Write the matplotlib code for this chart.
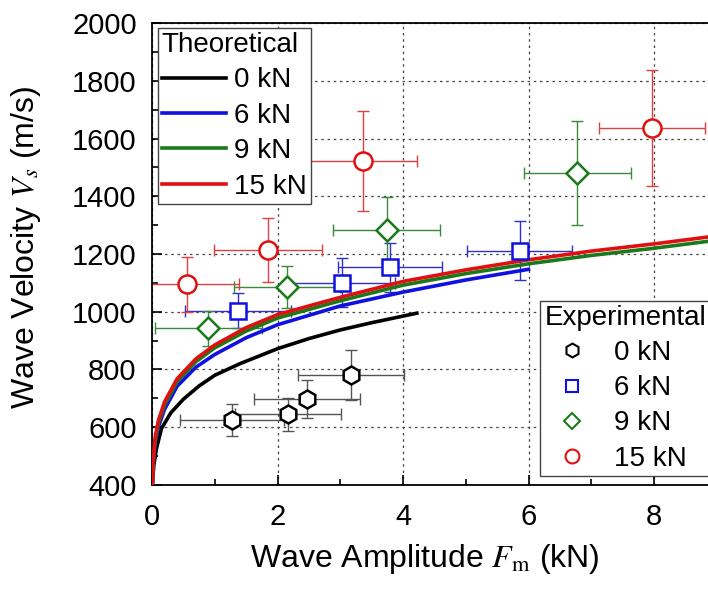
import matplotlib
matplotlib.use("Agg")
import matplotlib.pyplot as plt
from matplotlib.lines import Line2D

plt.rcParams['font.family'] = ['Liberation Sans', 'DejaVu Sans']
plt.rcParams['mathtext.fontset'] = 'stix'

# theoretical curves
f_0 = [0.005, 0.03, 0.07, 0.15, 0.3, 0.5, 0.75, 1.0, 1.4, 2.0, 2.5, 3.0, 3.5, 4.22]
v_0 = [400, 470, 525, 595, 650, 697, 743, 780, 820, 872, 907, 937, 962, 995]

f_6 = [0.005, 0.02, 0.05, 0.1, 0.2, 0.4, 0.7, 1.0, 1.5, 2.0, 3.0, 4.0, 5.0, 6.0]
v_6 = [400, 470, 545, 600, 662, 742, 808, 852, 910, 955, 1020, 1068, 1110, 1147]

f_9 = [0.005, 0.02, 0.05, 0.1, 0.2, 0.4, 0.7, 1.0, 1.5, 2.0, 3.0, 4.0, 5.0, 6.0, 7.0, 8.0, 8.9]
v_9 = [400, 478, 555, 612, 677, 758, 827, 875, 933, 978, 1038, 1092, 1132, 1166, 1195, 1220, 1245]

f_15 = [0.005, 0.02, 0.05, 0.1, 0.2, 0.4, 0.7, 1.0, 1.5, 2.0, 3.0, 4.0, 5.0, 6.0, 7.0, 8.0, 8.9]
v_15 = [400, 485, 565, 622, 688, 768, 837, 885, 945, 990, 1050, 1105, 1145, 1180, 1210, 1235, 1260]

# experimental points: amplitude, velocity, errors
ex0_f = [1.27, 2.17, 2.47, 3.17]
ex0_v = [625, 645, 697, 781]
ex0_fe = [0.83, 0.84, 0.85, 0.85]
ex0_ve = [55, 57, 66, 85]

ex6_f = [1.37, 3.02, 3.79, 5.86]
ex6_v = [1004, 1101, 1154, 1212]
ex6_fe = [0.84, 0.85, 0.83, 0.84]
ex6_ve = [60, 85, 85, 102]

ex9_f = [0.90, 2.15, 3.74, 6.78]
ex9_v = [943, 1085, 1283, 1482]
ex9_fe = [0.85, 0.85, 0.85, 0.85]
ex9_ve = [60, 73, 115, 180]

ex15_f = [0.55, 1.85, 3.37, 7.97]
ex15_v = [1095, 1214, 1523, 1637]
ex15_fe = [0.83, 0.86, 0.85, 0.85]
ex15_ve = [95, 110, 173, 200]

labels = ['0 kN', '6 kN', '9 kN', '15 kN']
colors = ['black', '#1010e0', '#1a7a1a', '#e01010']
err_colors = ['#555555', '#3030c8', '#3a8a3a', '#e04040']
markers = ['h', 's', 'D', 'o']
msizes = [13, 12, 11, 13]

fig = plt.figure(figsize=(7.08, 5.90), dpi=100)
ax = fig.add_axes([0.2147, 0.178, 0.7853, 0.783])

theo = [(f_0, v_0), (f_6, v_6), (f_9, v_9), (f_15, v_15)]
exps = [(ex0_f, ex0_v, ex0_fe, ex0_ve), (ex6_f, ex6_v, ex6_fe, ex6_ve),
        (ex9_f, ex9_v, ex9_fe, ex9_ve), (ex15_f, ex15_v, ex15_fe, ex15_ve)]

theo_handles = []
for (f, v), c, lab in zip(theo, colors, labels):
    h, = ax.plot(f, v, color=c, lw=2.6, zorder=3, label=lab)
    theo_handles.append(h)

exp_handles = []
for (f, v, fe, ve), c, ec, m, ms, lab in zip(exps, colors, err_colors, markers, msizes, labels):
    ax.errorbar(f, v, xerr=fe, yerr=ve, fmt='none', ecolor=ec, elinewidth=1,
                capsize=4, capthick=1, zorder=2)
    ax.plot(f, v, ls='none', marker=m, ms=ms, mfc='white', mec=c, mew=1.8, zorder=4)
    exp_handles.append(Line2D([], [], ls='none', marker=m, ms=ms - 3, mfc='white',
                              mec=c, mew=1.5, label=lab))

ax.set_xlim(0, 8.86)
ax.set_ylim(400, 2000)
ax.set_xticks([0, 2, 4, 6, 8])
ax.set_xticks(range(0, 9), minor=True)
ax.set_yticks(range(400, 2001, 200))
ax.set_yticks(range(400, 2001, 100), minor=True)
ax.tick_params(which='both', direction='in', labelsize=21, width=1.2)
ax.tick_params(which='major', length=7)
ax.tick_params(which='minor', length=4)
ax.tick_params(axis='x', pad=13)
ax.tick_params(axis='y', pad=11)
ax.spines['right'].set_visible(False)
for s in ['left', 'bottom', 'top']:
    ax.spines[s].set_linewidth(1.3)
ax.grid(True, which='major', ls=(0, (2, 3)), color='#444444', lw=0.9)

ax.set_xlabel(r'Wave Amplitude $F_{\mathrm{m}}$ (kN)', fontsize=23)
ax.set_ylabel(r'Wave Velocity $V_s$ (m/s)', fontsize=23)
ax.xaxis.set_label_coords(0.491, -0.123)
ax.yaxis.set_label_coords(-0.196, 0.515)

leg1 = ax.legend(handles=theo_handles, title='Theoretical', loc='upper left',
                 bbox_to_anchor=(0.01, 0.99), fontsize=20, title_fontsize=20,
                 handlelength=2.3, handletextpad=0.3, borderpad=0.15,
                 labelspacing=0.34, borderaxespad=0, fancybox=False,
                 edgecolor='#444444', framealpha=1)
leg1._legend_box.align = 'left'
leg1.get_frame().set_linewidth(1.0)
ax.add_artist(leg1)

leg2 = ax.legend(handles=exp_handles, title='Experimental', loc='lower left',
                 bbox_to_anchor=(0.698, 0.02), fontsize=20, title_fontsize=20,
                 handletextpad=0.5, borderpad=0.15, labelspacing=0.33,
                 borderaxespad=0, fancybox=False, edgecolor='#444444', framealpha=1)
leg2._legend_box.align = 'left'
leg2.get_frame().set_linewidth(1.0)
leg2.set_zorder(5)

fig.savefig('out.png', dpi=100)
